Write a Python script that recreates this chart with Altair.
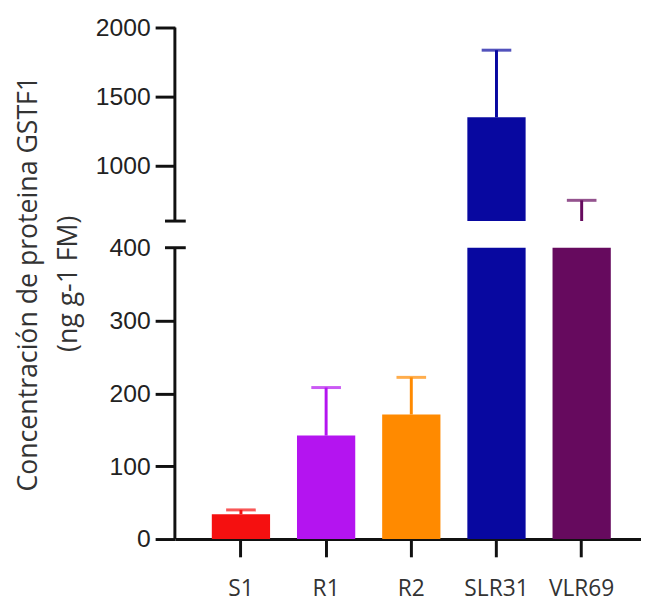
import altair as alt
import pandas as pd

categories = ["S1", "R1", "R2", "SLR31", "VLR69"]
means = [34, 142, 171, 1350, 520]
uppers = [40, 208, 222, 1836, 750]
colors = ["#f51010", "#b414f0", "#ff8a00", "#0808a0", "#660a5e"]
y_ticks = [0, 100, 200, 300, 400, 1000, 1500, 2000]
seg_lo = [0, 600]
seg_hi = [400, 2000]
break_vals = [400, 600]
gap_lo = [400]
gap_hi = [600]

W, H = 472, 518

df = pd.DataFrame({"cat": categories, "mean": means, "upper": uppers})
seg_df = pd.DataFrame({"lo": seg_lo, "hi": seg_hi})
brk_df = pd.DataFrame({"v": break_vals})
gap_df = pd.DataFrame({"lo": gap_lo, "hi": gap_hi})

yscale = alt.Scale(domain=[0, 400, 600, 2000], range=[H, 223, 196, 0], nice=False, zero=False)
xscale = alt.Scale(domain=categories, paddingInner=0.316, paddingOuter=0.394, align=0.55)
cscale = alt.Scale(domain=categories, range=colors)

xaxis = alt.Axis(title=None, labelAngle=0, labelFont="Open Sans", labelFontSize=23,
                 labelColor="#333", tickSize=18, tickWidth=3, tickColor="#111",
                 domainWidth=3, domainColor="#111", labelPadding=21)
yaxis = alt.Axis(values=y_ticks, format="d", grid=False, domain=False, labelFont="Liberation Sans",
                 labelFontSize=25, labelColor="#222", tickSize=20, tickWidth=3,
                 tickColor="#111", labelPadding=5,
                 tickOpacity={"condition": {"test": "datum.value == 400", "value": 0}, "value": 1},
                 title=["Concentración de proteina GSTF1", "(ng g-1 FM)"],
                 titleFont="Open Sans", titleFontSize=27, titleFontWeight="normal",
                 titleColor="#333", titleLineHeight=40, titleX=-134, titleY=H / 2)

bars = alt.Chart(df).mark_bar().encode(
    x=alt.X("cat:N", scale=xscale, axis=xaxis, sort=categories),
    y=alt.Y("mean:Q", scale=yscale, axis=yaxis),
    color=alt.Color("cat:N", scale=cscale, legend=None),
)
stems = alt.Chart(df).mark_rule(strokeWidth=3).encode(
    x=alt.X("cat:N", sort=categories, axis=xaxis),
    y=alt.Y("mean:Q", scale=yscale, axis=yaxis),
    y2="upper:Q",
    color=alt.Color("cat:N", scale=cscale, legend=None),
)
caps = alt.Chart(df).mark_tick(thickness=3, size=30).encode(
    x=alt.X("cat:N", sort=categories, axis=xaxis),
    y=alt.Y("upper:Q", scale=yscale, axis=yaxis),
    color=alt.Color("cat:N", scale=cscale, legend=None),
)
gap = alt.Chart(gap_df).mark_rect(color="white").encode(
    y=alt.Y("lo:Q", scale=yscale, axis=yaxis),
    y2="hi:Q",
    x=alt.value(-2),
    x2=alt.value(W),
)
axis_line = alt.Chart(seg_df).mark_rule(strokeWidth=3, color="#111").encode(
    y=alt.Y("lo:Q", scale=yscale, axis=yaxis),
    y2="hi:Q",
    x=alt.value(0),
)
brk = alt.Chart(brk_df).mark_rule(strokeWidth=3, color="#111").encode(
    y=alt.Y("v:Q", scale=yscale, axis=yaxis),
    x=alt.value(-10),
    x2=alt.value(11),
)

chart = alt.layer(bars, stems, caps, gap, axis_line, brk).properties(
    width=W, height=H, autosize="none",
    padding={"left": 169, "top": 16, "right": 0, "bottom": 60},
    background="white",
).configure_view(stroke=None)

chart.save("out.html", embed_options={"renderer": "svg", "actions": False})
